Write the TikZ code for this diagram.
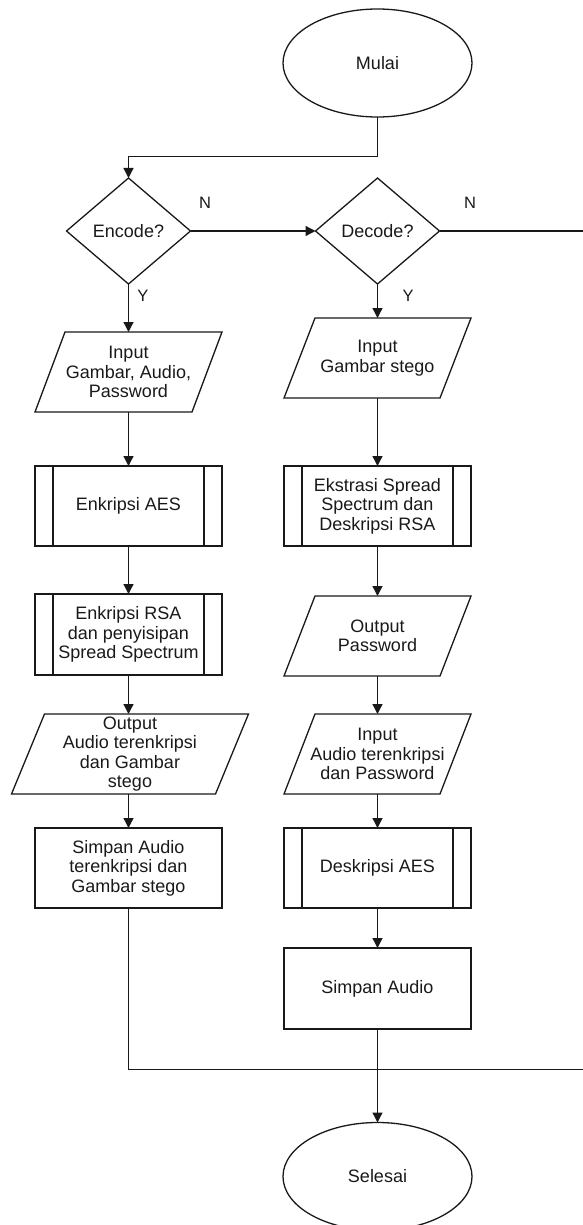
\documentclass[tikz,border=0pt]{standalone}
\usepackage{fontspec}
\setmainfont{Liberation Sans}
\usetikzlibrary{shapes.geometric,arrows.meta}
\begin{document}
\begin{tikzpicture}[x=1pt,y=-1pt,
  every node/.style={font=\fontsize{18}{19.5}\selectfont, align=center, inner sep=0pt, outer sep=0pt, text=black!90},
  lw/.style={line width=1.3pt, draw=black!90},
  term/.style={ellipse, draw, lw, minimum width=189pt, minimum height=108pt},
  dec/.style={diamond, draw, lw, minimum width=124pt, minimum height=106pt},
  proc/.style={rectangle, draw, lw, minimum width=187pt, minimum height=80pt},
  pproc/.style={proc, path picture={
      \draw[lw] ([xshift=18pt]path picture bounding box.north west) -- ([xshift=18pt]path picture bounding box.south west);
      \draw[lw] ([xshift=-18pt]path picture bounding box.north east) -- ([xshift=-18pt]path picture bounding box.south east);}},
  iobox/.style={rectangle, minimum width=187pt, minimum height=80pt},
  arr/.style={lw, -{Triangle[length=10pt,width=10pt]}},
  conn/.style={lw},
  lbl/.style={font=\fontsize{16.5}{18}\selectfont}
]
\useasboundingbox (0,0) rectangle (582,1225);

% terminals and decisions
\node[term] (mulai) at (377.5,63) {Mulai};
\node[dec] (encode) at (128.5,231) {Encode?};
\node[dec] (decode) at (377.5,231) {Decode?};

% left column
\node[iobox] (in1) at (128.5,372) {Input\\Gambar, Audio,\\Password};
\node[pproc] (aes) at (128.5,506) {Enkripsi AES};
\node[pproc, minimum height=81pt] (rsa) at (128.5,634.5) {Enkripsi RSA\\dan penyisipan\\Spread Spectrum};
\node[iobox, minimum width=237pt] (out1) at (130,754) {Output\\Audio terenkripsi\\dan Gambar\\stego};
\node[proc] (simpan1) at (128.5,868) {Simpan Audio\\terenkripsi dan\\Gambar stego};

% right column
\node[iobox] (in2) at (377.5,358) {Input\\Gambar stego};
\node[pproc] (ekstr) at (377.5,506) {Ekstrasi Spread\\Spectrum dan\\Deskripsi RSA};
\node[iobox] (outpw) at (377.5,636) {Output\\Password};
\node[iobox] (in3) at (377.5,754) {Input\\Audio terenkripsi\\dan Password};
\node[pproc] (daes) at (377.5,868) {Deskripsi AES};
\node[proc, minimum height=81pt] (simpan2) at (377.5,988.5) {Simpan Audio};
\node[term] (selesai) at (377.5,1176.5) {Selesai};

% parallelogram outlines
\foreach \n/\s in {in1/30,in2/31,outpw/31,in3/31,out1/33}{
  \draw[lw] ([xshift=\s pt]\n.north west) -- (\n.north east) -- ([xshift=-\s pt]\n.south east) -- (\n.south west) -- cycle;
}

% labels
\node[lbl] (n1) at (205,203) {N};
\node[lbl] (n2) at (470,203) {N};
\node[lbl] (y1) at (143,296) {Y};
\node[lbl] (y2) at (408,296) {Y};

% helper coordinates
\coordinate (j1) at (377.5,156.7);
\coordinate (m) at (377.5,1069.3);
\coordinate (r1) at (592,231);
\coordinate (r2) at (592,1069.3);

% connectors
\draw[arr] (mulai.south) -- (j1) -| (encode.north);
\draw[arr] (encode.east) -- (decode.west);
\draw[arr] (encode.south) -- (in1.north);
\draw[arr] (in1.south) -- (aes.north);
\draw[arr] (aes.south) -- (rsa.north);
\draw[arr] (rsa.south) -- (rsa.south |- out1.north);
\draw[arr] (simpan1.north |- out1.south) -- (simpan1.north);
\draw[conn] (simpan1.south) |- (m);

\draw[arr] (decode.south) -- (in2.north);
\draw[arr] (in2.south) -- (ekstr.north);
\draw[arr] (ekstr.south) -- (outpw.north);
\draw[arr] (outpw.south) -- (in3.north);
\draw[arr] (in3.south) -- (daes.north);
\draw[arr] (daes.south) -- (simpan2.north);
\draw[arr] (simpan2.south) -- (selesai.north);
\draw[conn] (decode.east) -- (r1) -- (r2) -- (m);
\end{tikzpicture}
\end{document}
